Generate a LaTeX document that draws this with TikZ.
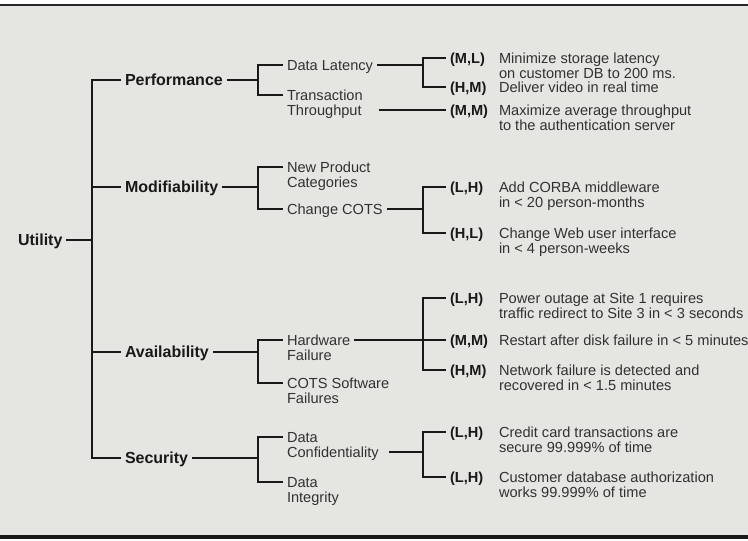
\documentclass[tikz,border=0pt]{standalone}
\usepackage{fontspec}
\setmainfont{Liberation Sans}
\usepackage{tikz}
\usepackage{xcolor}
\definecolor{paper}{RGB}{229,229,226}
\definecolor{ink}{RGB}{50,50,50}
\newcommand{\twol}[2]{\vtop{\hbox{#1}\hbox{#2}}}

\tikzset{
  rootlab/.style={anchor=west,inner sep=0pt,outer xsep=4pt,text height=11.5pt,text depth=0pt,
    font=\fontsize{16}{16}\selectfont\bfseries,text=black!90},
  reflab/.style={anchor=west,inner sep=0pt,outer xsep=4pt,text height=10.4pt,text depth=0pt,
    font=\fontsize{14.6}{15}\selectfont,text=ink},
  priolab/.style={reflab,font=\fontsize{14.6}{15}\selectfont\bfseries,text=black!90},
  wire/.style={line width=1.7pt,black!90}
}

\begin{document}
\begin{tikzpicture}[x=1pt,y=-1pt]
\useasboundingbox (0,0) rectangle (748,541);
\fill[white] (0,0) rectangle (748,541);
\fill[paper] (0,6) rectangle (748,536);
\draw[line width=2.5pt,black!85] (0,5) -- (748,5);
\draw[line width=3.5pt,black!90] (0,537) -- (748,537);

\coordinate (trunk) at (92,0);
\coordinate (bsub) at (258,0);
\coordinate (bscen) at (423,0);

\node[rootlab] (util) at (14,240) {Utility};
\node[rootlab] (perf) at (121,80) {Performance};
\node[rootlab] (mod) at (121,187) {Modifiability};
\node[rootlab] (avail) at (121,352) {Availability};
\node[rootlab] (sec) at (121,458) {Security};

\node[reflab] (dlat) at (283,65) {Data Latency};
\node[reflab] (ttp) at (283,95) {\twol{Transaction}{Throughput}};
\node[reflab] (npc) at (283,167) {\twol{New Product}{Categories}};
\node[reflab] (chc) at (283,209) {Change COTS};
\node[reflab] (hw) at (283,340) {\twol{Hardware}{Failure}};
\node[reflab] (csf) at (283,383) {\twol{COTS Software}{Failures}};
\node[reflab] (dconf) at (283,437) {\twol{Data}{Confidentiality}};
\node[reflab] (dint) at (283,482) {\twol{Data}{Integrity}};

\node[priolab] (p1) at (446,58) {(M,L)};
\node[reflab] (s1) at (495,58) {\twol{Minimize storage latency}{on customer DB to 200 ms.}};
\node[priolab] (p2) at (446,87) {(H,M)};
\node[reflab] (s2) at (495,87) {Deliver video in real time};
\node[priolab] (p3) at (446,110) {(M,M)};
\node[reflab] (s3) at (495,110) {\twol{Maximize average throughput}{to the authentication server}};
\node[priolab] (p4) at (446,187) {(L,H)};
\node[reflab] (s4) at (495,187) {\twol{Add CORBA middleware}{in < 20 person-months}};
\node[priolab] (p5) at (446,233) {(H,L)};
\node[reflab] (s5) at (495,233) {\twol{Change Web user interface}{in < 4 person-weeks}};
\node[priolab] (p6) at (446,298) {(L,H)};
\node[reflab] (s6) at (495,298) {\twol{Power outage at Site 1 requires}{traffic redirect to Site 3 in < 3 seconds}};
\node[priolab] (p7) at (446,340) {(M,M)};
\node[reflab] (s7) at (495,340) {Restart after disk failure in < 5 minutes};
\node[priolab] (p8) at (446,370) {(H,M)};
\node[reflab] (s8) at (495,370) {\twol{Network failure is detected and}{recovered in < 1.5 minutes}};
\node[priolab] (p9) at (446,432) {(L,H)};
\node[reflab] (s9) at (495,432) {\twol{Credit card transactions are}{secure 99.999\% of time}};
\node[priolab] (p10) at (446,477) {(L,H)};
\node[reflab] (s10) at (495,477) {\twol{Customer database authorization}{works 99.999\% of time}};

\draw[wire] (util) -- (util -| trunk);
\draw[wire] (perf) -| (trunk |- sec) -- (sec);
\draw[wire] (mod) -- (mod -| trunk);
\draw[wire] (avail) -- (avail -| trunk);

\draw[wire] (perf) -- (perf -| bsub);
\draw[wire] (dlat) -| (bsub |- ttp) -- (ttp);
\draw[wire] (mod) -- (mod -| bsub);
\draw[wire] (npc) -| (bsub |- chc) -- (chc);
\draw[wire] (avail) -- (avail -| bsub);
\draw[wire] (hw) -| (bsub |- csf) -- (csf);
\draw[wire] (sec) -- (sec -| bsub);
\draw[wire] (dconf) -| (bsub |- dint) -- (dint);

\draw[wire] (dlat) -- (dlat -| bscen);
\draw[wire] (p1) -| (bscen |- p2) -- (p2);
\path (ttp.east) ++(12,15) coordinate (ttp-out);
\draw[wire] (ttp-out) -- (p3);
\draw[wire] (chc) -- (chc -| bscen);
\draw[wire] (p4) -| (bscen |- p5) -- (p5);
\draw[wire] (hw) -- (p7);
\draw[wire] (p6) -| (bscen |- p8) -- (p8);
\path (dconf.east) ++(6,15) coordinate (dconf-out);
\draw[wire] (dconf-out) -- (dconf-out -| bscen);
\draw[wire] (p9) -| (bscen |- p10) -- (p10);
\end{tikzpicture}
\end{document}
